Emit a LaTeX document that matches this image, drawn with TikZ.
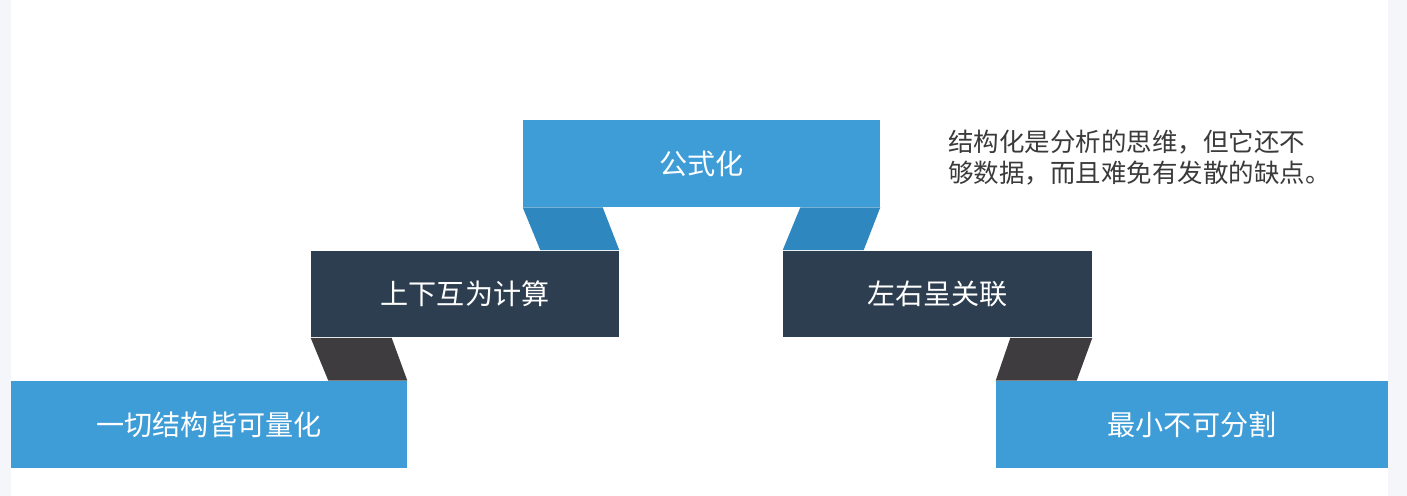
\documentclass[tikz,border=0pt]{standalone}
\usepackage{fontspec}
\newfontfamily\cjk{Noto Sans CJK SC}
\definecolor{stepblue}{HTML}{3E9CD7}
\definecolor{foldblue}{HTML}{2F87BF}
\definecolor{stepnavy}{HTML}{2D3E50}
\definecolor{foldgray}{HTML}{3E3C3F}
\definecolor{notegray}{HTML}{3A3A3A}
\definecolor{sideband}{HTML}{F5F6FA}
\tikzset{
  step box/.style={
    rectangle, draw=none, inner sep=0pt, minimum height=1.74cm,
    text=white, font=\cjk\fontsize{16pt}{19pt}\selectfont
  },
  blue box/.style={step box, fill=stepblue},
  navy box/.style={step box, fill=stepnavy},
  note text/.style={
    inner sep=0pt, align=left, text=notegray,
    font=\cjk\fontsize{14.5pt}{17.6pt}\selectfont
  }
}
\begin{document}
\begin{tikzpicture}[x=0.02cm, y=-0.02cm]
\useasboundingbox (0,0) rectangle (1407,496);
\fill[sideband] (0,0) rectangle (1407,496);
\fill[white] (11,0) rectangle (1388,496);

% 台阶：左低、中高、右低
\node[blue box, minimum width=7.92cm] (low left)  at (209,424.5)   {一切结构皆可量化};
\node[navy box, minimum width=6.16cm] (mid left)  at (465,294)     {上下互为计算};
\node[blue box, minimum width=7.14cm] (top)       at (701.5,163.5) {公式化};
\node[navy box, minimum width=6.18cm] (mid right) at (937.5,294)   {左右呈关联};
\node[blue box, minimum width=7.84cm] (low right) at (1192,424.5)  {最小不可分割};

% 折边
\fill[foldgray] (mid left.south west) -- ++(81,0) -- (low left.north east) -- ++(-79,0) -- cycle;
\fill[foldblue] (top.south west) -- ++(80,0) -- (mid left.north east) -- ++(-79,0) -- cycle;
\fill[foldblue] (top.south east) -- ++(-80,0) -- (mid right.north west) -- ++(81,0) -- cycle;
\fill[foldgray] (mid right.south east) -- ++(-82,0) -- (low right.north west) -- ++(81,0) -- cycle;

% 说明文字
\node[note text, anchor=west] (note) at (948,157.5)
  {结构化是分析的思维，但它还不\\够数据，而且难免有发散的缺点。};

\end{tikzpicture}
\end{document}
